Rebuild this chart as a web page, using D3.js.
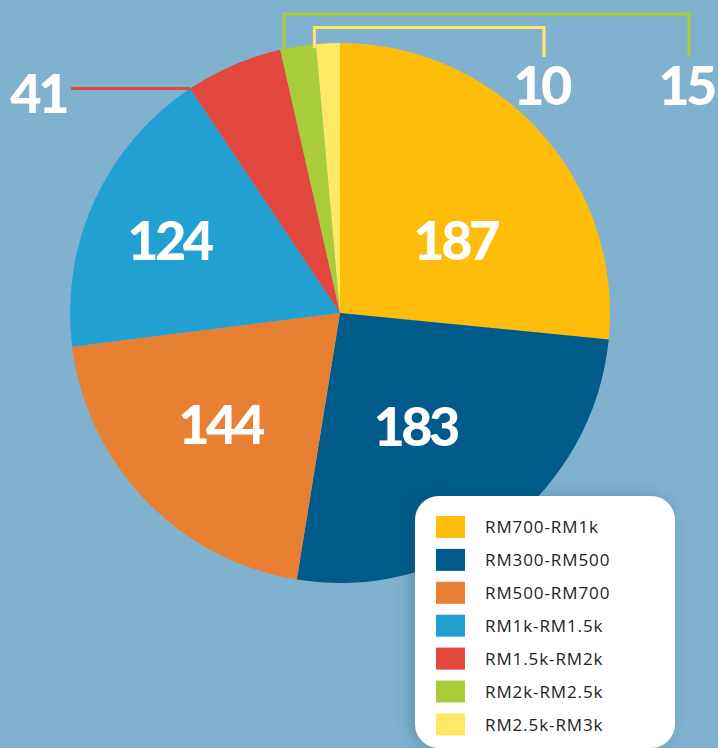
<!DOCTYPE html>
<html lang="en">
<head>
<meta charset="UTF-8">
<title>Pie chart</title>
<script src="https://d3js.org/d3.v7.min.js"></script>
<style>
    html, body { margin: 0; padding: 0; background: #80b1ce; overflow: hidden; }
    .big { font-family: Lato, "Open Sans", sans-serif; font-weight: 900; fill: #fff; letter-spacing: -3.5px; }
    .legend-text { font-family: "Open Sans", Lato, sans-serif; font-size: 17px; fill: #222; letter-spacing: 0.9px; }
</style>
</head>
<body>
<div id="chart"></div>
<script>
    // data
    const categories = ["RM700-RM1k", "RM300-RM500", "RM500-RM700", "RM1k-RM1.5k", "RM1.5k-RM2k", "RM2k-RM2.5k", "RM2.5k-RM3k"];
    const counts = [187, 183, 144, 124, 41, 15, 10];
    const colors = ["#ffbd0b", "#005b8a", "#e88034", "#23a0d2", "#e2483d", "#a9cd38", "#ffe964"];

    const W = 718, H = 748;
    const cx = 340, cy = 313, r = 270;

    const data = categories.map((c, i) => ({ cat: c, value: counts[i], color: colors[i] }));

    const svg = d3.select("#chart").append("svg")
        .attr("width", W)
        .attr("height", H);

    svg.append("rect").attr("width", W).attr("height", H).attr("fill", "#80b1ce");

    const defs = svg.append("defs");
    defs.append("filter").attr("id", "shadow")
        .attr("x", "-20%").attr("y", "-20%").attr("width", "140%").attr("height", "140%")
        .append("feDropShadow")
        .attr("dx", -5).attr("dy", 0).attr("stdDeviation", 7)
        .attr("flood-color", "#1d4a66").attr("flood-opacity", 0.3);

    const pie = d3.pie().sort(null).value(d => d.value);
    const arcs = pie(data);
    const arc = d3.arc().innerRadius(0).outerRadius(r);

    const g = svg.append("g").attr("transform", `translate(${cx},${cy})`);

    g.selectAll("path.slice")
        .data(arcs)
        .enter().append("path")
        .attr("class", "slice")
        .attr("d", arc)
        .attr("fill", d => d.data.color);

    // inside labels: radius and angle nudge for the big slices
    const inside = { 0: [136, 10], 1: [136, 4], 2: [164, 1], 3: [186, -1.5] };
    const deg = Math.PI / 180;
    Object.keys(inside).forEach(k => {
        const a = arcs[+k];
        const [rad, nudge] = inside[k];
        const ang = (a.startAngle + a.endAngle) / 2 + nudge * deg;
        g.append("text")
            .attr("class", "big")
            .attr("x", rad * Math.sin(ang))
            .attr("y", -rad * Math.cos(ang))
            .attr("dy", "0.36em")
            .attr("text-anchor", "middle")
            .attr("font-size", 54)
            .text(a.data.value);
    });

    // outside label for the red slice: horizontal leader from its start edge
    const red = arcs[4];
    const rx = r * Math.sin(red.startAngle), ry = -r * Math.cos(red.startAngle);
    g.append("line")
        .attr("x1", rx).attr("y1", ry)
        .attr("x2", 71 - cx).attr("y2", ry)
        .attr("stroke", red.data.color).attr("stroke-width", 3);
    g.append("text")
        .attr("class", "big")
        .attr("x", 66 - cx).attr("y", ry + 5)
        .attr("dy", "0.36em")
        .attr("text-anchor", "end")
        .attr("font-size", 54)
        .text(red.data.value);

    // bracket leaders for the two thin slices
    const brackets = [
        { a: arcs[5], top: 14, right: 689, shift: 3.5 },
        { a: arcs[6], top: 27.5, right: 544, shift: -1.5 }
    ];
    brackets.forEach(b => {
        const x0 = r * Math.sin(b.a.startAngle) + b.shift;
        const yEdge = -Math.sqrt(r * r - x0 * x0);
        const xr = b.right - cx;
        g.append("path")
            .attr("d", `M${x0},${yEdge + 4} V${b.top - cy} H${xr} V${57 - cy}`)
            .attr("fill", "none")
            .attr("stroke", b.a.data.color)
            .attr("stroke-width", 3);
        g.append("text")
            .attr("class", "big")
            .attr("x", xr - 3).attr("y", 86 - cy)
            .attr("dy", "0.36em")
            .attr("text-anchor", "middle")
            .attr("font-size", 54)
            .text(b.a.data.value);
    });

    // legend
    const lg = svg.append("g").attr("transform", "translate(415,496)");
    lg.append("rect")
        .attr("width", 260).attr("height", 252)
        .attr("rx", 24).attr("ry", 24)
        .attr("fill", "#fff")
        .attr("filter", "url(#shadow)");

    const row = d3.scaleBand().domain(categories).range([20, 20 + 32.9 * categories.length]);
    const items = lg.selectAll("g.item")
        .data(data)
        .enter().append("g")
        .attr("class", "item")
        .attr("transform", d => `translate(0,${row(d.cat)})`);
    items.append("rect")
        .attr("x", 21).attr("width", 29).attr("height", 22)
        .attr("fill", d => d.color);
    items.append("text")
        .attr("class", "legend-text")
        .attr("x", 70).attr("y", 11)
        .attr("dy", "0.36em")
        .text(d => d.cat);
</script>
</body>
</html>
